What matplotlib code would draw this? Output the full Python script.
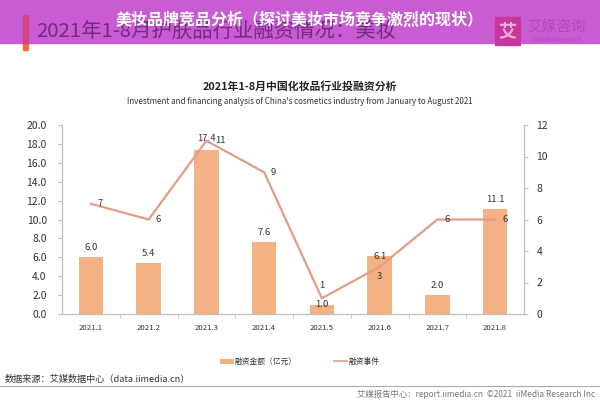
import matplotlib
matplotlib.use('Agg')
import matplotlib.pyplot as plt
from matplotlib.patches import Rectangle, Patch
from matplotlib.lines import Line2D

plt.rcParams['font.family'] = ['Noto Sans CJK SC', 'DejaVu Sans']

# 数据
months = ['2021.1', '2021.2', '2021.3', '2021.4', '2021.5', '2021.6', '2021.7', '2021.8']
amount = [6.0, 5.4, 17.4, 7.6, 1.0, 6.1, 2.0, 11.1]   # 融资金额（亿元）
events = [7, 6, 11, 9, 1, 3, 6, 6]                    # 融资事件

bar_color = '#F4B183'
line_color = '#E39D85'
axis_gray = '#BFBFBF'
text_dark = '#333333'

fig = plt.figure(figsize=(6, 4), dpi=100)
fig.patch.set_facecolor('white')

# 顶部横幅
fig.patches.append(Rectangle((23 / 600, 1 - 50 / 400), 5 / 600, 35 / 400, transform=fig.transFigure,
                             color='#E8713F', zorder=1))
fig.patches.append(Rectangle((0, 1 - 43 / 400), 1, 43 / 400, transform=fig.transFigure,
                             color='#C95CD2', zorder=2))
fig.patches.append(Rectangle((23 / 600, 1 - 43 / 400), 5 / 600, 28 / 400, transform=fig.transFigure,
                             color='#D0467E', zorder=3))
fig.text(36 / 600, 1 - 31 / 400, '2021年1-8月护肤品行业融资情况：美妆', fontsize=14.7, color='#742A84',
         ha='left', va='center', zorder=3)
fig.patches.append(Rectangle((495 / 600, 1 - 45 / 400), 25 / 600, 28 / 400, transform=fig.transFigure,
                             color='#C8389C', zorder=3))
fig.text(507.5 / 600, 1 - 31 / 400, '艾', fontsize=13, color='#EBB0DE', fontweight='bold',
         ha='center', va='center', zorder=4)
fig.text(557 / 600, 1 - 27 / 400, '艾媒咨询', fontsize=10.5, color='#B048B8',
         ha='center', va='center', zorder=4)
fig.text(557 / 600, 1 - 40 / 400, 'iiMedia Research', fontsize=4.5, color='#B048B8',
         ha='center', va='center', zorder=4)
fig.text(0.5, 1 - 20 / 400, '美妆品牌竞品分析（探讨美妆市场竞争激烈的现状）', fontsize=11.5,
         color='white', fontweight='bold', ha='center', va='center', zorder=5)

# 标题
fig.text(0.5, 1 - 86 / 400, '2021年1-8月中国化妆品行业投融资分析', fontsize=7.8,
         fontweight='bold', color='#222222', ha='center', va='center')
fig.text(0.5, 1 - 102 / 400,
         "Investment and financing analysis of China's cosmetics industry from January to August 2021",
         fontsize=5.8, color='#333333', ha='center', va='center')

ax = fig.add_axes([62 / 600, 86 / 400, 462 / 600, 189 / 400])
ax.set_facecolor('none')
x = list(range(len(months)))
bars = ax.bar(x, amount, width=0.42, color=bar_color, zorder=2)
ax.set_xlim(-0.5, len(months) - 0.5)
ax.set_ylim(0, 20)
ax.set_yticks([i * 2 for i in range(11)])
ax.set_yticklabels(['%.1f' % (i * 2) for i in range(11)], fontsize=7.5, color=text_dark)
ax.set_xticks(x)
ax.set_xticklabels(months, fontsize=5.6, color=text_dark)
ax.set_xticks([i + 0.5 for i in range(len(months) - 1)], minor=True)
ax.tick_params(axis='x', which='major', length=0, pad=7)
ax.tick_params(axis='x', which='minor', length=3, color=axis_gray, direction='out')
ax.tick_params(axis='y', length=3, color=axis_gray, pad=8)
for s in ['top']:
    ax.spines[s].set_visible(False)
for s in ['left', 'bottom', 'right']:
    ax.spines[s].set_color(axis_gray)
    ax.spines[s].set_linewidth(0.8)

# 柱形标签
bar_off = [7, 7, 8, 7, 0, 0, 7, 7]
for i, v in enumerate(amount):
    ax.annotate('%.1f' % v, (i, v), xytext=(0, bar_off[i]), textcoords='offset points',
                ha='center', va='center', fontsize=6.8, color=text_dark, zorder=5)

ax2 = ax.twinx()
ax2.plot(x, events, color=line_color, linewidth=1.6, zorder=3)
ax2.set_ylim(0, 12)
ax2.set_yticks(range(0, 13, 2))
ax2.set_yticklabels([str(i) for i in range(0, 13, 2)], fontsize=7.5, color=text_dark)
ax2.tick_params(axis='y', length=3, color=axis_gray, pad=6)
ax2.spines['top'].set_visible(False)
for s in ['left', 'bottom', 'right']:
    ax2.spines[s].set_color(axis_gray)
    ax2.spines[s].set_linewidth(0.8)

# 折线标签
line_off = [(5, 0), (5, 0), (6, 0), (5, 0), (0, 9), (0, -7), (5, 0), (5, 0)]
line_ha = ['left', 'left', 'left', 'left', 'center', 'center', 'left', 'left']
for i, v in enumerate(events):
    ax2.annotate(str(v), (i, v), xytext=line_off[i], textcoords='offset points',
                 ha=line_ha[i], va='center', fontsize=6.8, color=text_dark, zorder=5)

# 图例
handles = [Patch(facecolor=bar_color, edgecolor='none'),
           Line2D([0], [0], color=line_color, linewidth=1.2)]
fig.legend(handles, ['融资金额（亿元）', '融资事件'], loc='center', bbox_to_anchor=(0.5, 1 - 362 / 400),
           ncol=2, frameon=False, fontsize=5.6, handlelength=1.7, handleheight=0.6,
           handletextpad=0.15, columnspacing=4.8, labelcolor=text_dark)

# 来源与页脚
fig.text(5 / 600, 1 - 379 / 400, '数据来源：艾媒数据中心（data.iimedia.cn）', fontsize=6.6,
         color=text_dark, ha='left', va='center')
fig.add_artist(Line2D([0, 1], [1 - 386 / 400, 1 - 386 / 400], transform=fig.transFigure,
                      color='#AAAAAA', linewidth=0.8))
fig.text(595 / 600, 1 - 394 / 400, '艾媒报告中心：report.iimedia.cn  ©2021  iiMedia Research Inc',
         fontsize=6, color='#777777', ha='right', va='center')

fig.savefig('out.png', dpi=100)
